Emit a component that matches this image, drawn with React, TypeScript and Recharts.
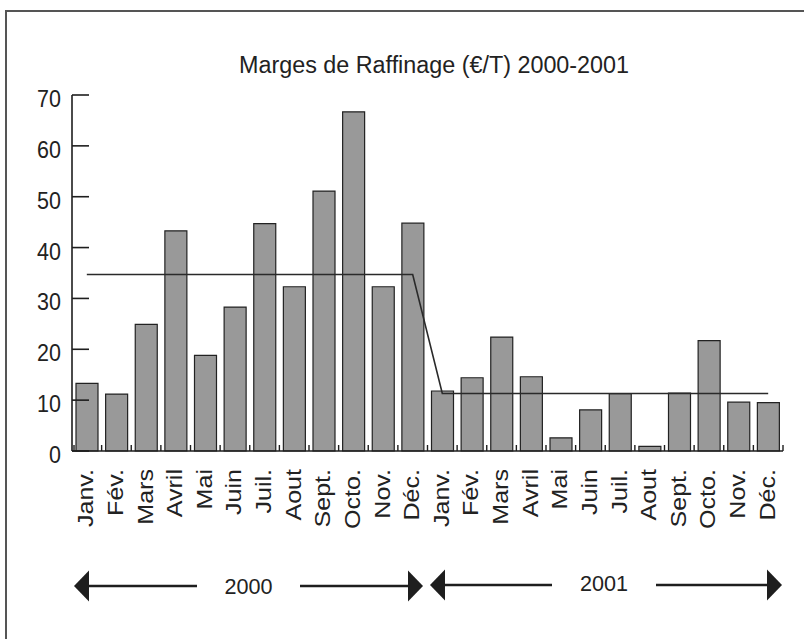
import React from "react";
import { ComposedChart, Bar, Line, XAxis, YAxis } from "recharts";

const months = ["Janv.", "Fév.", "Mars", "Avril", "Mai", "Juin", "Juil.", "Aout", "Sept.", "Octo.", "Nov.", "Déc."];
const years = ["2000", "2001"];
const margins2000 = [13.3, 11.2, 24.9, 43.3, 18.8, 28.3, 44.7, 32.3, 51.1, 66.7, 32.3, 44.8];
const margins2001 = [11.8, 14.4, 22.4, 14.6, 2.6, 8.1, 11.3, 0.9, 11.4, 21.7, 9.6, 9.5];
const yearAverages = [34.7, 11.3];
const yTicks = [0, 10, 20, 30, 40, 50, 60, 70];
const title = "Marges de Raffinage (€/T) 2000-2001";

const W = 804;
const H = 639;
const MARGIN = { top: 95, right: 21, bottom: 88, left: 0 };
const Y_AXIS_W = 72;
const X_AXIS_H = 100;
const FONT = "'Liberation Sans', Arial, Helvetica, sans-serif";
const INK = "#1e1e1e";

const data = [
  ...margins2000.map((v, i) => ({ id: `2000-${i}`, label: months[i], marge: v, moyenne: yearAverages[0] })),
  ...margins2001.map((v, i) => ({ id: `2001-${i}`, label: months[i], marge: v, moyenne: yearAverages[1] })),
];

const BAND = (W - MARGIN.left - MARGIN.right - Y_AXIS_W) / data.length;

const YTick = (props: any) => {
  const { x, y, payload } = props;
  const axisX = x + 10;
  return (
    <g>
      <line x1={axisX} x2={axisX + 17} y1={y} y2={y} stroke={INK} strokeWidth={1.6} />
      <text
        transform={`translate(${x - 1},${y + 12}) scale(1,1.15)`}
        textAnchor="end"
        fontFamily={FONT}
        fontSize={21.5}
        fill="#222"
      >
        {payload.value}
      </text>
    </g>
  );
};

const XTick = (props: any) => {
  const { x, y, index } = props;
  const lbl = data[index] ? data[index].label : "";
  return (
    <g>
      <line x1={x + BAND / 2} x2={x + BAND / 2} y1={y} y2={y - 6} stroke={INK} strokeWidth={1.4} />
      {index === 0 && (
        <line x1={x - BAND / 2 + 2} x2={x - BAND / 2 + 2} y1={y} y2={y - 6} stroke={INK} strokeWidth={1.4} />
      )}
      <text
        transform={`translate(${x + 6.5},${y + 18}) rotate(-90) scale(1.14,1.02)`}
        textAnchor="end"
        fontFamily={FONT}
        fontSize={22}
        fill="#222"
      >
        {lbl}
      </text>
    </g>
  );
};

const Arrow = ({ x1, x2, y, label, gapL, gapR, ty }: any) => {
  const head = 15;
  const hh = 15.5;
  return (
    <g>
      <polygon points={`${x1},${y} ${x1 + head},${y - hh} ${x1 + head},${y + hh}`} fill={INK} />
      <line x1={x1 + head} x2={gapL} y1={y} y2={y} stroke={INK} strokeWidth={2.5} />
      <text x={(gapL + gapR) / 2} y={ty} textAnchor="middle" fontFamily={FONT} fontSize={21.6} fill="#222">
        {label}
      </text>
      <line x1={gapR} x2={x2 - head} y1={y} y2={y} stroke={INK} strokeWidth={2.5} />
      <polygon points={`${x2},${y} ${x2 - head},${y - hh} ${x2 - head},${y + hh}`} fill={INK} />
    </g>
  );
};

export default function App() {
  return (
    <div style={{ position: "absolute", left: 0, top: 0, width: W, height: H, background: "#fff" }}>
      <ComposedChart width={W} height={H} data={data} margin={MARGIN}>
        <XAxis
          dataKey="id"
          height={X_AXIS_H}
          interval={0}
          tickSize={0}
          tickMargin={0}
          tick={<XTick />}
          axisLine={{ stroke: INK, strokeWidth: 1.6 }}
          tickLine={false}
        />
        <YAxis
          width={Y_AXIS_W}
          domain={[0, 70]}
          ticks={yTicks}
          interval={0}
          tickSize={0}
          tickMargin={10}
          tick={<YTick />}
          axisLine={{ stroke: INK, strokeWidth: 1.6 }}
          tickLine={false}
        />
        <Bar dataKey="marge" barSize={22} fill="#999999" stroke="#222" strokeWidth={1.2} isAnimationActive={false} />
        <Line
          dataKey="moyenne"
          type="linear"
          stroke="#2a2a2a"
          strokeWidth={1.6}
          dot={false}
          activeDot={false}
          isAnimationActive={false}
        />
      </ComposedChart>
      <svg
        width={W}
        height={H}
        style={{ position: "absolute", left: 0, top: 0, pointerEvents: "none" }}
      >
        <path d={`M6,${H + 2} L6,11 L${W + 2},11`} fill="none" stroke="#555" strokeWidth={2} />
        <text
          transform={`translate(434,73) scale(1,1.1)`}
          textAnchor="middle"
          fontFamily={FONT}
          fontSize={22}
          textLength={390}
          lengthAdjust="spacingAndGlyphs"
          fill="#222"
        >
          {title}
        </text>
        <Arrow x1={74} x2={423} y={586} label={years[0]} gapL={197} gapR={300} ty={594} />
        <Arrow x1={430} x2={782} y={585} label={years[1]} gapL={552} gapR={656} ty={591} />
      </svg>
    </div>
  );
}
